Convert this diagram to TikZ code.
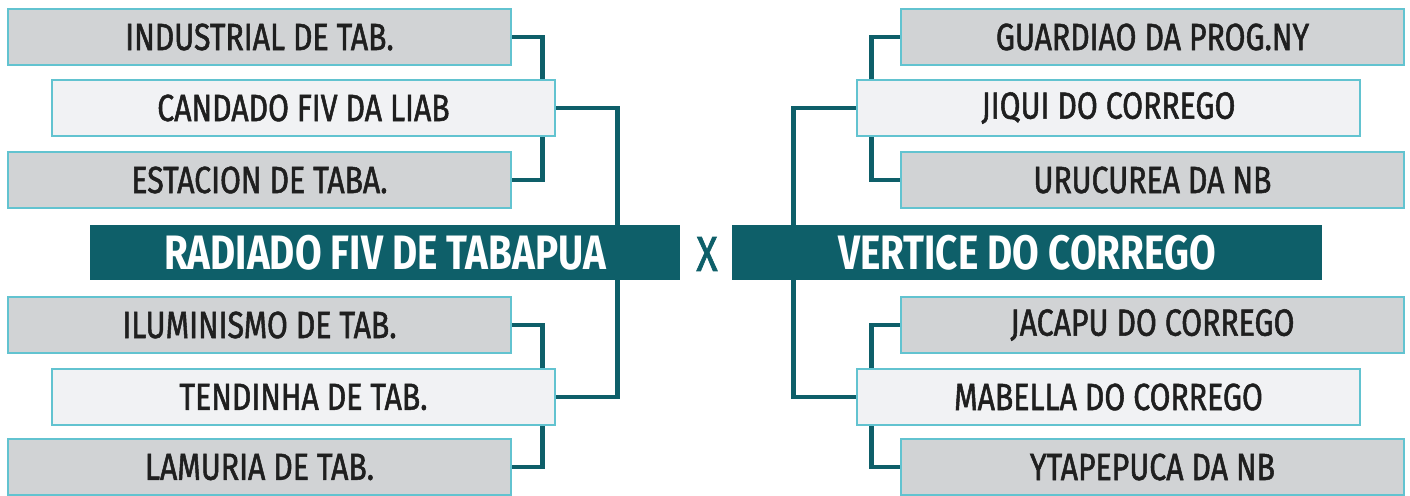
\documentclass[tikz,border=0pt]{standalone}
\usepackage{fontspec}
\setmainfont{Fira Sans}[FakeStretch=0.8]
\newfontfamily\teamfont{Fira Sans}[FakeStretch=0.8, FakeBold=1.4]
\usetikzlibrary{positioning,backgrounds}

\definecolor{teal}{HTML}{0E5F69}
\definecolor{rim}{HTML}{62C3D0}
\definecolor{sidegray}{HTML}{D1D3D5}
\definecolor{sidelight}{HTML}{F1F2F4}

\begin{document}
\begin{tikzpicture}[
  x=0.02cm, y=-0.02cm,
  team/.style={draw=rim, line width=1.6pt, outer sep=0pt, minimum width=10.06cm, minimum height=1.12cm, font=\teamfont\fontsize{21.5}{22}\selectfont, text=black!88},
  outer/.style={team, fill=sidegray},
  inner/.style={team, fill=sidelight},
  final/.style={fill=teal, outer sep=0pt, minimum width=11.8cm, minimum height=1.1cm, text=white, font=\fontsize{27.5}{28}\selectfont\bfseries},
  link/.style={draw=teal, line width=2.8pt},
]
\useasboundingbox (0,0) rectangle (1410,495);

% === Left bracket ===
\node[outer] (ind) at (259.5,37) {INDUSTRIAL DE TAB.};
\node[inner] (can) at (303.5,108) {CANDADO FIV DA LIAB};
\node[outer] (est) at (259.5,180) {ESTACION DE TABA.};
\node[final] (rad) at (385,252.5) {RADIADO FIV DE TABAPUA};
\node[outer] (ilu) at (259.5,325) {ILUMINISMO DE TAB.};
\node[inner] (ten) at (303.5,397) {TENDINHA DE TAB.};
\node[outer] (lam) at (259.5,467) {LAMURIA DE TAB.};

% === Right bracket ===
\node[outer] (gua) at (1152.5,37) {GUARDIAO DA PROG.NY};
\node[inner] (jiq) at (1108.5,108) {JIQUI DO CORREGO};
\node[outer] (uru) at (1152.5,180) {URUCUREA DA NB};
\node[final] (ver) at (1027,252.5) {VERTICE DO CORREGO};
\node[outer] (jac) at (1152.5,325) {JACAPU DO CORREGO};
\node[inner] (mab) at (1108.5,397) {MABELLA DO CORREGO};
\node[outer] (yta) at (1152.5,467) {YTAPEPUCA DA NB};

% === Versus ===
\node[text=teal, font=\teamfont\fontsize{28}{28}\selectfont] (vs) at (707,254) {X};

% === Connectors behind the boxes ===
\begin{scope}[on background layer]
  \draw[link] (ind.east) -- ++(32,0) |- (est.east);
  \draw[link] (ilu.east) -- ++(32,0) |- (lam.east);
  \draw[link] (can.east) -- ++(63,0) |- (ten.east);
  \draw[link] (gua.west) -- ++(-30,0) |- (uru.west);
  \draw[link] (jac.west) -- ++(-30,0) |- (yta.west);
  \draw[link] (jiq.west) -- ++(-64,0) |- (mab.west);
\end{scope}

\end{tikzpicture}
\end{document}
